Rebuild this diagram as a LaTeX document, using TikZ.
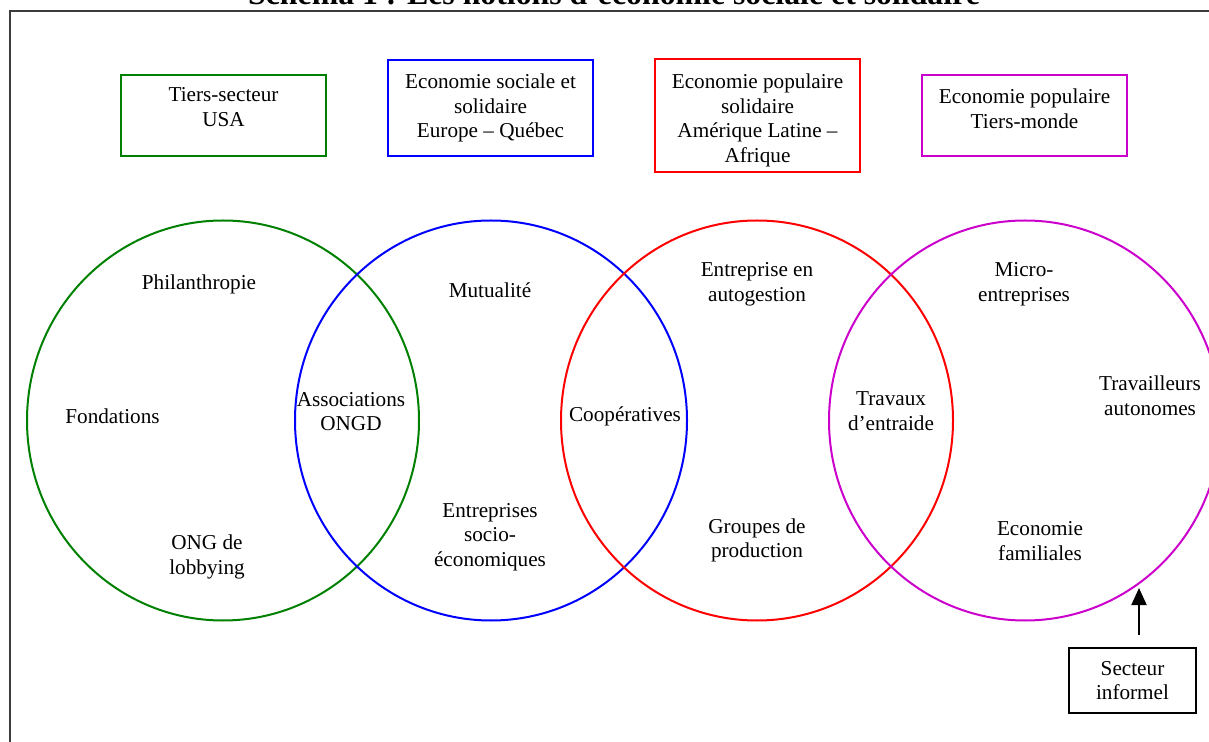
\documentclass[tikz,border=0pt]{standalone}
\usepackage{fontspec}
\setmainfont{Liberation Serif}
\usetikzlibrary{arrows.meta}
\definecolor{vert}{RGB}{0,128,0}
\definecolor{mauve}{RGB}{204,0,204}
\definecolor{trait}{RGB}{60,60,60}
\tikzset{cadre/.style={draw=#1, line width=1pt, minimum width=102.5pt, inner sep=0pt},
         txt/.style={align=center, inner sep=0pt,
         font=\fontsize{10.6}{12.3}\selectfont},
         cercle/.style={draw=#1, line width=1pt}}

\begin{document}
\begin{tikzpicture}[x=0.5pt, y=-0.5pt]
    \useasboundingbox (0,0) rectangle (1209,742);
    \clip (0,0) rectangle (1209,742);

    \node[anchor=base, inner sep=0pt, font=\bfseries\fontsize{15.9}{18}\selectfont] (titre) at (614,5)
      {Schéma 1 : Les notions d’économie sociale et solidaire};
    \draw[trait, line width=0.9pt] (10,742) -- (10,11) -- (1209,11);

    \node[cadre=vert, minimum height=40.5pt] (usa) at (223.5,115.5) {};
    \node[txt, anchor=north] (usa-t) at (223.5,87.5) {Tiers-secteur\\USA};
    \node[cadre=blue, minimum height=48pt] (europe) at (490.5,108) {};
    \node[txt, anchor=north] (europe-t) at (490.5,73.5) {Economie sociale et\\solidaire\\Europe – Québec};
    \node[cadre=red, minimum height=56.5pt] (amlat) at (757.5,115.5) {};
    \node[txt, anchor=north] (amlat-t) at (757.5,73.5) {Economie populaire\\solidaire\\Amérique Latine –\\Afrique};
    \node[cadre=mauve, minimum height=40.5pt] (tiers) at (1024.5,115.5) {};
    \node[txt, anchor=north] (tiers-t) at (1024.5,88.5) {Economie populaire\\Tiers-monde};

    \foreach \cx/\col in {223/vert, 491/blue, 757/red, 1025/mauve}
      \draw[cercle=\col] (\cx,420.5) ellipse [x radius=98pt, y radius=100pt];

    \node[txt] (philan) at (199,284) {Philanthropie};
    \node[txt] (fondations) at (112.5,416) {Fondations};
    \node[txt] (lobbying) at (207,557) {ONG de\\lobbying};
    \node[txt] (ongd) at (351,411.5) {Associations\\ONGD};
    \node[txt] (mutualite) at (490,290) {Mutualité};
    \node[txt] (socioeco) at (490,537) {Entreprises\\socio-\\économiques};
    \node[txt] (cooper) at (625,416) {Coopératives};
    \node[txt] (autogestion) at (757,284.5) {Entreprise en\\autogestion};
    \node[txt] (groupes) at (757,540.5) {Groupes de\\production};
    \node[txt] (entraide) at (891,411) {Travaux\\d’entraide};
    \node[txt] (micro) at (1024,284) {Micro-\\entreprises};
    \node[txt] (autonomes) at (1150,396) {Travailleurs\\autonomes};
    \node[txt] (familiales) at (1040,541) {Economie\\familiales};

    \node[cadre=black, txt, minimum width=63.5pt, minimum height=32.5pt] (informel) at (1132.5,680.5)
      {Secteur\\informel};
    \coordinate (pointe) at (1139,588);
    \draw[-{Triangle[length=8.5pt, width=7.5pt]}, line width=1pt]
      ([xshift=3.25pt, yshift=6pt]informel.north) -- (pointe);
\end{tikzpicture}
\end{document}
